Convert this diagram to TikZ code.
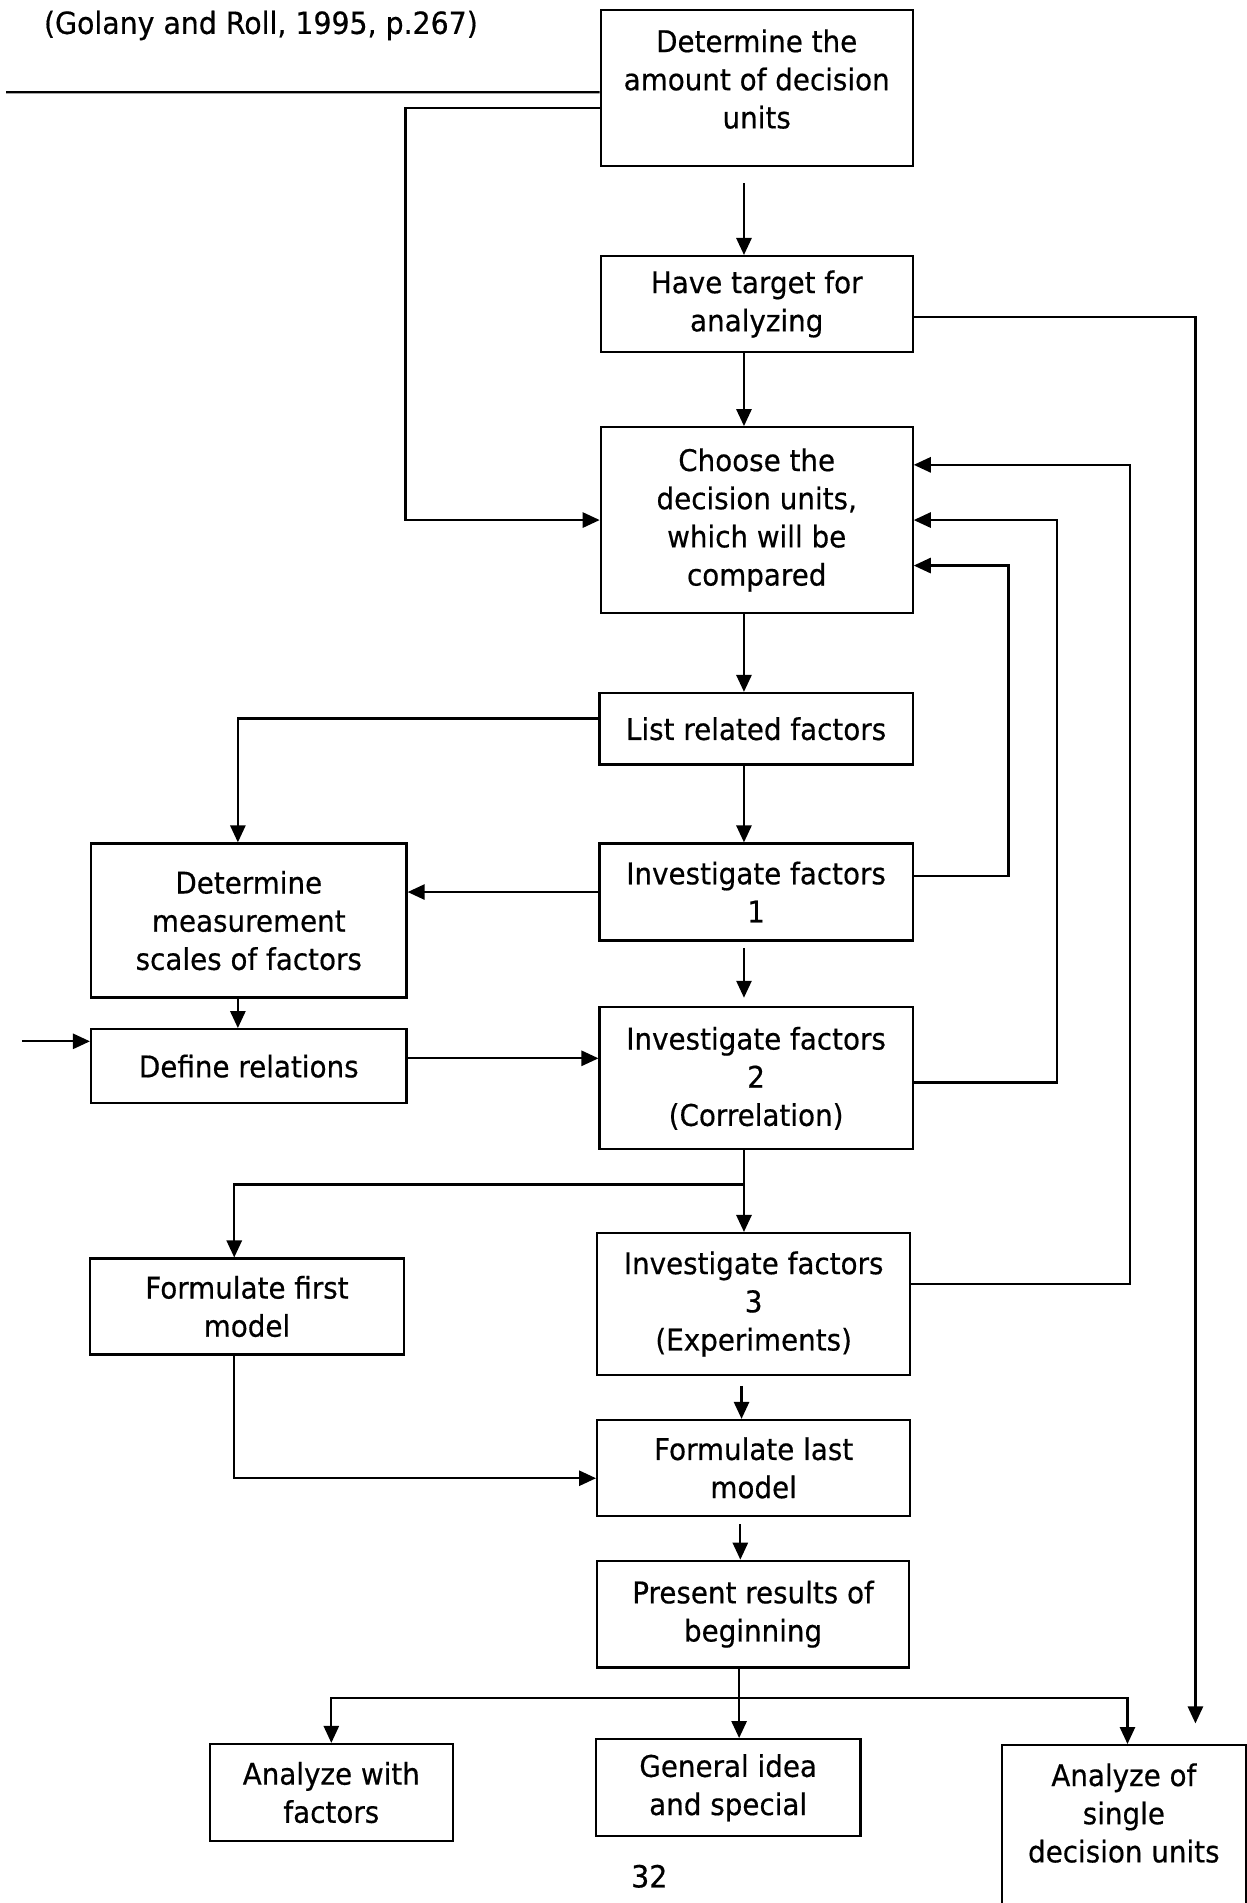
\documentclass[tikz,border=0pt]{standalone}
\usepackage{fontspec}
\setmainfont{DejaVu Sans}[FakeStretch=0.93,FakeBold=0.5]
\usetikzlibrary{arrows.meta}
\begin{document}
\begin{tikzpicture}[x=0.02cm,y=-0.02cm,
    box/.style={draw,line width=1.05pt,align=center,inner sep=0pt,font=\fontsize{14pt}{17.9pt}\selectfont},
    txt/.style={inner sep=0pt,font=\fontsize{14.3pt}{17.9pt}\selectfont},
    arr/.style={line width=1.05pt,-{Triangle[length=0.28cm,width=0.25cm]}},
    lin/.style={line width=1.05pt}]
    \useasboundingbox (0,0) rectangle (1027,1568);
    % boxes
    \node [box,minimum width=5.14cm,minimum height=2.58cm,text depth=0.3cm] (amount) at (623.5,72.5) {Determine the\\amount of decision\\units};
    \node [box,minimum width=5.14cm,minimum height=1.58cm] (target) at (623.5,250.5) {Have target for\\analyzing};
    \node [box,minimum width=5.14cm,minimum height=3.06cm] (choose) at (623.5,428.5) {Choose the\\decision units,\\which will be\\compared};
    \node [box,minimum width=5.16cm,minimum height=1.18cm] (list) at (623,600.5) {List related factors};
    \node [box,minimum width=5.2cm,minimum height=2.54cm] (scales) at (205,758.5) {Determine\\measurement\\scales of factors};
    \node [box,minimum width=5.16cm,minimum height=1.6cm] (inv1) at (623,735) {Investigate factors\\1};
    \node [box,minimum width=5.2cm,minimum height=1.22cm] (relations) at (205,878.5) {Define relations};
    \node [box,minimum width=5.16cm,minimum height=2.34cm] (inv2) at (623,888.5) {Investigate factors\\2\\(Correlation)};
    \node [box,minimum width=5.18cm,minimum height=1.58cm] (first) at (203.5,1076.5) {Formulate first\\model};
    \node [box,minimum width=5.16cm,minimum height=2.34cm] (inv3) at (621,1074.5) {Investigate factors\\3\\(Experiments)};
    \node [box,minimum width=5.16cm,minimum height=1.58cm] (last) at (621,1209.5) {Formulate last\\model};
    \node [box,minimum width=5.14cm,minimum height=1.76cm] (present) at (620.5,1330) {Present results of\\beginning};
    \node [box,minimum width=4cm,minimum height=1.6cm] (withf) at (273,1477) {Analyze with\\factors};
    \node [box,minimum width=4.36cm,minimum height=1.6cm] (general) at (600,1473) {General idea\\and special};
    \node [box,minimum width=4.02cm,inner ysep=0.3cm,text depth=2cm,anchor=north] (single) at (926,1437) {Analyze of\\single\\decision units};
    % texts
    \node [txt] (cite) at (215,21) {(Golany and Roll, 1995, p.267)};
    \node [txt] (page) at (535,1546) {32};
    \coordinate (inA) at (5,76);
    \coordinate (inB) at (18,858);
    % main column
    \draw [arr] ([xshift=-0.21cm,yshift=-0.26cm]amount.south) -- ([xshift=-0.21cm]target.north);
    \draw [arr] ([xshift=-0.21cm]target.south) -- ([xshift=-0.21cm]choose.north);
    \draw [arr] ([xshift=-0.21cm]choose.south) -- ([xshift=-0.21cm]choose.south |- list.north);
    \draw [arr] ([xshift=-0.2cm]list.south) -- ([xshift=-0.2cm]inv1.north);
    \draw [arr] ([xshift=-0.2cm,yshift=-0.1cm]inv1.south) -- ([xshift=-0.2cm,yshift=0.14cm]inv2.north);
    \draw [arr] ([xshift=-0.2cm]inv2.south) -- ([xshift=-0.2cm]inv2.south |- inv3.north);
    \draw [arr] ([xshift=-0.2cm,yshift=-0.16cm]inv3.south) -- ([xshift=-0.2cm]inv3.south |- last.north);
    \draw [arr] ([xshift=-0.22cm,yshift=-0.12cm]last.south) -- ([xshift=-0.22cm]last.south |- present.north);
    \draw [arr] ([xshift=-0.23cm]present.south) -- ([xshift=-0.23cm]present.south |- general.north);
    % left side
    \draw [lin] (inA) -- ([yshift=-0.07cm]amount.west);
    \draw [arr] ([yshift=-0.33cm]amount.west) -- ++(-160,0) |- (choose.west);
    \draw [arr] ([yshift=0.17cm]list.west) -| ([xshift=-0.18cm]scales.north);
    \draw [arr] (inv1.west) -- (inv1.west -| scales.east);
    \draw [arr] ([xshift=-0.18cm]scales.south) -- ([xshift=-0.18cm]relations.north);
    \draw [arr] (inB) -- (inB -| relations.west);
    \draw [arr] ([yshift=0.13cm]relations.east) -- ([yshift=0.13cm]relations.east -| inv2.west);
    \draw [arr] ([xshift=-0.2cm]inv2.south) ++(0,28) -| ([xshift=-0.21cm]first.north);
    \draw [arr] ([xshift=-0.21cm]first.south) |- ([yshift=-0.17cm]last.west);
    % feedback
    \draw [arr] ([yshift=0.26cm]inv1.east) -- ++(78,0) |- ([yshift=-0.75cm]choose.east);
    \draw [arr] ([yshift=-0.07cm]inv2.east) -- ++(118,0) |- (choose.east);
    \draw [arr] ([yshift=0.33cm]inv3.east) -- ++(180,0) |- ([yshift=0.91cm]choose.east);
    \draw [arr] ([yshift=-0.21cm]target.east) -| ([xshift=1.18cm,yshift=0.34cm]single.north);
    % results
    \draw [arr] ([xshift=-0.23cm]present.south) ++(0,24) -| (withf.north);
    \draw [arr] ([xshift=-0.23cm]present.south) ++(0,24) -| ([xshift=0.06cm]single.north);
\end{tikzpicture}
\end{document}
